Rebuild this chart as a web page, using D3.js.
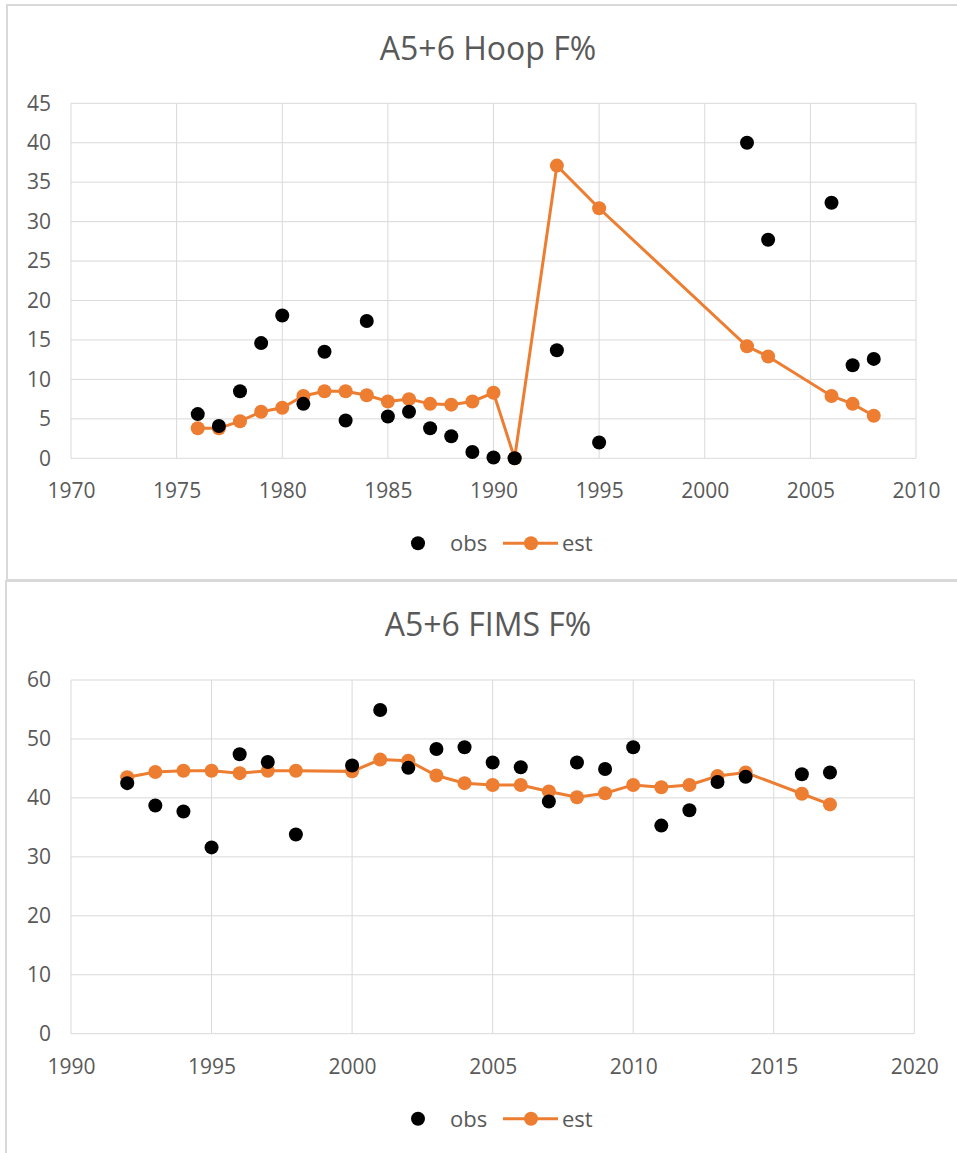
<!DOCTYPE html>
<html>
<head>
<meta charset="utf-8">
<script src="https://cdn.jsdelivr.net/npm/d3@7"></script>
<style>
  body { margin: 0; background: #fff; }
  text { font-family: "Open Sans", sans-serif; fill: #595959; }
</style>
</head>
<body>
<div id="chart"></div>
<script>
// Hoop survey
const hoopYears = [1976, 1977, 1978, 1979, 1980, 1981, 1982, 1983, 1984, 1985, 1986, 1987, 1988, 1989, 1990, 1991, 1993, 1995, 2002, 2003, 2006, 2007, 2008];
const hoopObs = [5.6, 4.1, 8.5, 14.6, 18.1, 6.9, 13.5, 4.8, 17.4, 5.3, 5.9, 3.8, 2.8, 0.8, 0.1, 0, 13.7, 2.0, 40.0, 27.7, 32.4, 11.8, 12.6];
const hoopEst = [3.8, 3.8, 4.7, 5.9, 6.4, 7.9, 8.5, 8.5, 8.0, 7.2, 7.5, 6.9, 6.8, 7.2, 8.3, 0, 37.1, 31.7, 14.2, 12.9, 7.9, 6.9, 5.4];
const hoopXTicks = [1970, 1975, 1980, 1985, 1990, 1995, 2000, 2005, 2010];
const hoopYTicks = [0, 5, 10, 15, 20, 25, 30, 35, 40, 45];

// FIMS survey
const fimsYears = [1992, 1993, 1994, 1995, 1996, 1997, 1998, 2000, 2001, 2002, 2003, 2004, 2005, 2006, 2007, 2008, 2009, 2010, 2011, 2012, 2013, 2014, 2016, 2017];
const fimsObs = [42.5, 38.7, 37.7, 31.6, 47.4, 46.1, 33.8, 45.5, 54.9, 45.1, 48.3, 48.6, 46.0, 45.2, 39.4, 46.0, 44.9, 48.6, 35.3, 37.9, 42.7, 43.6, 44.0, 44.3];
const fimsEst = [43.5, 44.4, 44.6, 44.6, 44.2, 44.6, 44.6, 44.5, 46.5, 46.3, 43.8, 42.5, 42.2, 42.2, 41.1, 40.1, 40.8, 42.2, 41.8, 42.2, 43.7, 44.3, 40.7, 38.9];
const fimsXTicks = [1990, 1995, 2000, 2005, 2010, 2015, 2020];
const fimsYTicks = [0, 10, 20, 30, 40, 50, 60];

const seriesNames = ["obs", "est"];

const svg = d3.select("#chart").append("svg").attr("width", 957).attr("height", 1153);

function drawPanel(opts) {
  const g = svg.append("g").attr("transform", `translate(0,${opts.top})`);

  // panel border
  g.append("rect")
    .attr("x", opts.borderX).attr("y", 0)
    .attr("width", 1000).attr("height", opts.panelHeight)
    .attr("fill", "none").attr("stroke", "#d9d9d9").attr("stroke-width", 2);

  g.append("text")
    .attr("x", 488).attr("y", 55)
    .attr("text-anchor", "middle")
    .style("font-size", "32px")
    .text(opts.title);

  const x = d3.scaleLinear().domain(d3.extent(opts.xTicks)).range([71, opts.right]);
  const y = d3.scaleLinear().domain(d3.extent(opts.yTicks)).range([opts.plotBottom, opts.plotTop]);

  // gridlines
  g.append("g").selectAll("line").data(opts.xTicks).join("line")
    .attr("x1", d => x(d)).attr("x2", d => x(d))
    .attr("y1", y.range()[1]).attr("y2", y.range()[0])
    .attr("stroke", "#d9d9d9").attr("stroke-width", 1);
  g.append("g").selectAll("line").data(opts.yTicks).join("line")
    .attr("x1", x.range()[0]).attr("x2", x.range()[1])
    .attr("y1", d => y(d)).attr("y2", d => y(d))
    .attr("stroke", "#d9d9d9").attr("stroke-width", 1);

  // axes labels
  const xAxis = g.append("g")
    .attr("transform", `translate(0,${opts.plotBottom})`)
    .call(d3.axisBottom(x).tickValues(opts.xTicks).tickFormat(d3.format("d")).tickSize(0).tickPadding(25));
  const yAxis = g.append("g")
    .attr("transform", "translate(71,0)")
    .call(d3.axisLeft(y).tickValues(opts.yTicks).tickSize(0).tickPadding(20));
  [xAxis, yAxis].forEach(a => {
    a.select(".domain").remove();
    a.selectAll("text").style("font-size", "21px").attr("fill", "#595959").style("font-family", '"Open Sans", sans-serif');
  });

  // est line
  const estPts = opts.years.map((yr, i) => [yr, opts.est[i]]);
  g.append("path")
    .datum(estPts)
    .attr("d", d3.line().x(d => x(d[0])).y(d => y(d[1])))
    .attr("fill", "none").attr("stroke", "#ed7d31").attr("stroke-width", 3);
  g.append("g").selectAll("circle").data(estPts).join("circle")
    .attr("cx", d => x(d[0])).attr("cy", d => y(d[1])).attr("r", 7)
    .attr("fill", "#ed7d31");

  // obs points
  const obsPts = opts.years.map((yr, i) => [yr, opts.obs[i]]);
  g.append("g").selectAll("circle").data(obsPts).join("circle")
    .attr("cx", d => x(d[0])).attr("cy", d => y(d[1])).attr("r", 7)
    .attr("fill", "#000");

  // legend
  const ly = opts.plotBottom + 85;
  const leg = g.append("g");
  leg.append("circle").attr("cx", 418).attr("cy", ly).attr("r", 7).attr("fill", "#000");
  leg.append("text").attr("x", 450).attr("y", ly + 8).style("font-size", "22px").text(seriesNames[0]);
  leg.append("line").attr("x1", 503).attr("x2", 558).attr("y1", ly).attr("y2", ly)
    .attr("stroke", "#ed7d31").attr("stroke-width", 3);
  leg.append("circle").attr("cx", 531).attr("cy", ly).attr("r", 7).attr("fill", "#ed7d31");
  leg.append("text").attr("x", 562).attr("y", ly + 8).style("font-size", "22px").text(seriesNames[1]);
}

drawPanel({
  top: 5, borderX: 7, panelHeight: 575,
  title: "A5+6 Hoop F%",
  years: hoopYears, obs: hoopObs, est: hoopEst,
  xTicks: hoopXTicks, yTicks: hoopYTicks,
  right: 916, plotTop: 98.3, plotBottom: 453.3
});

drawPanel({
  top: 581, borderX: 6, panelHeight: 600,
  title: "A5+6 FIMS F%",
  years: fimsYears, obs: fimsObs, est: fimsEst,
  xTicks: fimsXTicks, yTicks: fimsYTicks,
  right: 914.3, plotTop: 99, plotBottom: 452.7
});
</script>
</body>
</html>
